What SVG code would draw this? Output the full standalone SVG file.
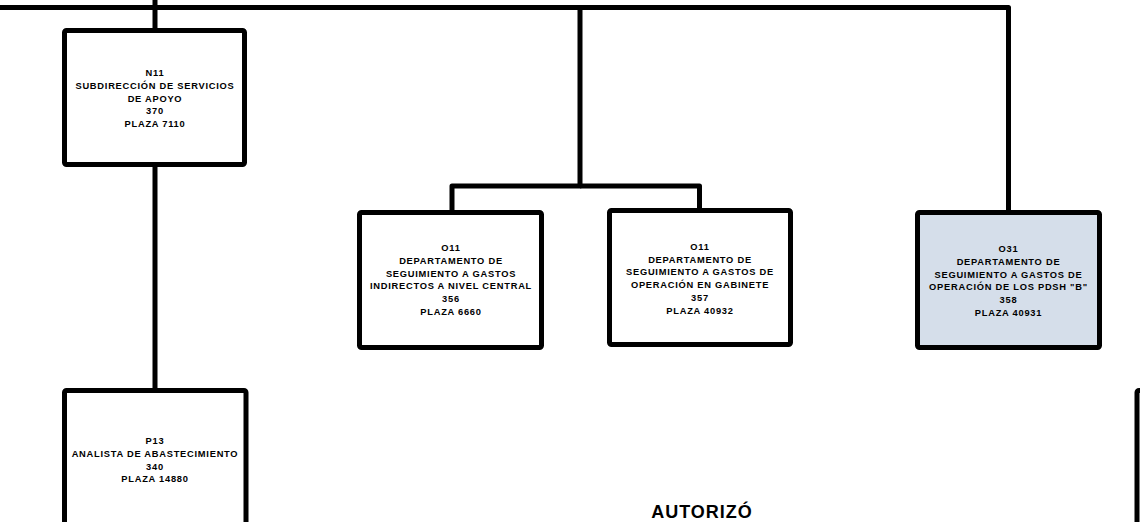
<svg xmlns="http://www.w3.org/2000/svg" width="1140" height="522" viewBox="0 0 1140 522">
<style>
.box{fill:#ffffff;stroke:#000;stroke-width:5;}
.blue{fill:#D5DEEA;}
.conn{fill:none;stroke:#000;stroke-width:5;stroke-linejoin:round;}
.t{font-family:"Liberation Sans",Arial,sans-serif;font-weight:bold;font-size:9.3px;letter-spacing:0.75px;text-anchor:middle;fill:#000;}
.big{font-family:"Liberation Sans",Arial,sans-serif;font-weight:bold;font-size:18px;letter-spacing:1px;text-anchor:middle;fill:#000;}
</style>
<rect width="1140" height="522" fill="#ffffff"/>
<g id="connectors">
<path class="conn" d="M0,7.5 H1008.5 V212.5"/>
<path class="conn" d="M155,0 V30.5"/>
<path class="conn" d="M155,164.5 V390.5"/>
<path class="conn" d="M580,7.5 V186 H452 V212.5"/>
<path class="conn" d="M580,186 H699.5 V210.5"/>
</g>
<g id="n11">
<rect class="box" x="64.5" y="30.5" width="180" height="134" rx="2"/>
<text class="t" x="155" y="76.3">N11</text>
<text class="t" x="155" y="89">SUBDIRECCIÓN DE SERVICIOS</text>
<text class="t" x="155" y="101.7">DE APOYO</text>
<text class="t" x="155" y="114.4">370</text>
<text class="t" x="155" y="127.1">PLAZA 7110</text>
</g>
<g id="o11-356">
<rect class="box" x="359.5" y="212.5" width="182" height="135" rx="2"/>
<text class="t" x="451" y="251.3">O11</text>
<text class="t" x="451" y="264">DEPARTAMENTO DE</text>
<text class="t" x="451" y="276.7">SEGUIMIENTO A GASTOS</text>
<text class="t" x="451" y="289.4">INDIRECTOS A NIVEL CENTRAL</text>
<text class="t" x="451" y="302.1">356</text>
<text class="t" x="451" y="314.8">PLAZA 6660</text>
</g>
<g id="o11-357">
<rect class="box" x="609.5" y="210.5" width="181" height="134" rx="2"/>
<text class="t" x="700" y="250">O11</text>
<text class="t" x="700" y="262.7">DEPARTAMENTO DE</text>
<text class="t" x="700" y="275.4">SEGUIMIENTO A GASTOS DE</text>
<text class="t" x="700" y="288.1">OPERACIÓN EN GABINETE</text>
<text class="t" x="700" y="300.8">357</text>
<text class="t" x="700" y="313.5">PLAZA 40932</text>
</g>
<g id="o31-358">
<rect class="box blue" x="917.5" y="212.5" width="182" height="135" rx="2"/>
<text class="t" x="1008.5" y="252.3">O31</text>
<text class="t" x="1008.5" y="265">DEPARTAMENTO DE</text>
<text class="t" x="1008.5" y="277.7">SEGUIMIENTO A GASTOS DE</text>
<text class="t" x="1008.5" y="290.4">OPERACIÓN DE LOS PDSH "B"</text>
<text class="t" x="1008.5" y="303.1">358</text>
<text class="t" x="1008.5" y="315.8">PLAZA 40931</text>
</g>
<g id="p13">
<rect class="box" x="64.5" y="390.5" width="181.5" height="160" rx="2"/>
<text class="t" x="155" y="444.3">P13</text>
<text class="t" x="155" y="457">ANALISTA DE ABASTECIMIENTO</text>
<text class="t" x="155" y="469.7">340</text>
<text class="t" x="155" y="482.4">PLAZA 14880</text>
</g>
<g id="partial-right">
<rect class="box" x="1137" y="390.5" width="60" height="160" rx="2"/>
</g>
<g id="autorizo">
<text class="big" x="702" y="517.5">AUTORIZÓ</text>
</g>
</svg>
